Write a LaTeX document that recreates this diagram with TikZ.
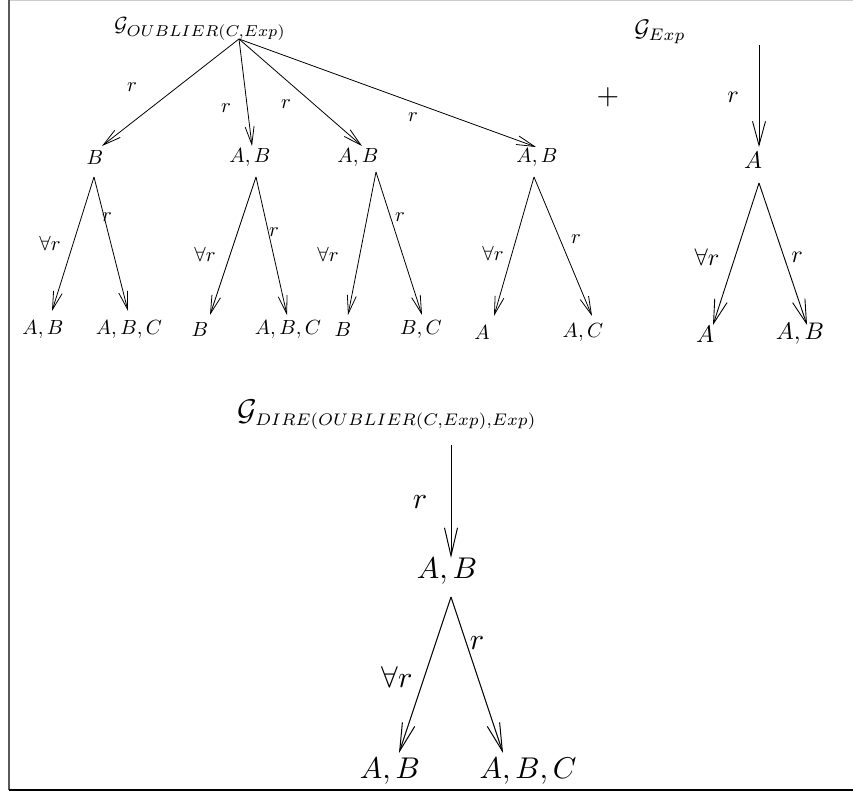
\documentclass[tikz,border=0pt]{standalone}
\usetikzlibrary{arrows.meta}
\begin{document}
\begin{tikzpicture}[x=1pt,y=-1pt,
  fa/.style={inner sep=0pt,scale=2.05,transform shape},
  fb/.style={inner sep=0pt,scale=2.4,transform shape},
  fc/.style={inner sep=0pt,scale=3.0,transform shape},
  ara/.style={-{Straight Barb[length=18pt,width=9pt]},line width=0.8pt},
  arb/.style={-{Straight Barb[length=24pt,width=13pt]},line width=0.9pt},
  arc/.style={-{Straight Barb[length=28pt,width=13pt]},line width=1pt}]
\useasboundingbox (0,0) rectangle (853,794);
% frame
\draw[line width=1pt,black!20] (9,0.5) -- (853,0.5);
\draw[line width=1.6pt,black!65] (9,0) -- (9,790);
\draw[line width=1.6pt] (9,790) -- (853,790);

% ---------- tree 1 ----------
\node[fa] (g1) at (200,29) {$\mathcal{G}_{\scalebox{1.1}{$\scriptstyle OUBLIER(C,Exp)$}}$};
\coordinate (s1) at (239,39);
\node[fa] (n1) at (95,157) {$B$};
\node[fa] (n2) at (250,157) {$A,B$};
\node[fa] (n3) at (358,157) {$A,B$};
\node[fa] (n4) at (537,157) {$A,B$};
\coordinate (t1) at (102,146);
\coordinate (t2) at (252,146);
\coordinate (t3) at (362,146);
\coordinate (t4) at (536,147);
\draw[ara] (s1) -- (t1);
\draw[ara] (s1) -- (t2);
\draw[ara] (s1) -- (t3);
\draw[ara] (s1) -- (t4);
\node[fa] (r1) at (132,87) {$r$};
\node[fa] (r2) at (226,108) {$r$};
\node[fa] (r3) at (286,104) {$r$};
\node[fa] (r4) at (413,117) {$r$};

% subtree of n1
\coordinate (p1) at (94,177);
\coordinate (p1a) at (52,311);
\coordinate (p1b) at (128,311);
\draw[ara] (p1) -- (p1a);
\draw[ara] (p1) -- (p1b);
\node[fa] (q1a) at (50,243) {$\forall r$};
\node[fa] (q1b) at (107,217) {$r$};
\node[fa] (m1a) at (43,329) {$A,B$};
\node[fa] (m1b) at (129,329) {$A,B,C$};

% subtree of n2
\coordinate (p2) at (256,177);
\coordinate (p2a) at (210,315);
\coordinate (p2b) at (287,315);
\draw[ara] (p2) -- (p2a);
\draw[ara] (p2) -- (p2b);
\node[fa] (q2a) at (205,254) {$\forall r$};
\node[fa] (q2b) at (274,232) {$r$};
\node[fa] (m2a) at (200,329) {$B$};
\node[fa] (m2b) at (288,329) {$A,B,C$};

% subtree of n3
\coordinate (p3) at (376,172);
\coordinate (p3a) at (348,315);
\coordinate (p3b) at (422,315);
\draw[ara] (p3) -- (p3a);
\draw[ara] (p3) -- (p3b);
\node[fa] (q3a) at (328,254) {$\forall r$};
\node[fa] (q3b) at (400,217) {$r$};
\node[fa] (m3a) at (343,329) {$B$};
\node[fa] (m3b) at (421,329) {$B,C$};

% subtree of n4
\coordinate (p4) at (534,177);
\coordinate (p4a) at (494,316);
\coordinate (p4b) at (592,316);
\draw[ara] (p4) -- (p4a);
\draw[ara] (p4) -- (p4b);
\node[fa] (q4a) at (493,253) {$\forall r$};
\node[fa] (q4b) at (576,239) {$r$};
\node[fa] (m4a) at (482,332) {$A$};
\node[fa] (m4b) at (583,332) {$A,C$};

% plus
\node[inner sep=0pt,scale=2.9,transform shape] (plus) at (608,97) {$+$};

% ---------- tree 2 ----------
\node[fb] (g2) at (660,32) {$\mathcal{G}_{Exp}$};
\coordinate (s2) at (759,45);
\coordinate (t5) at (759,147);
\draw[arb] (s2) -- (t5);
\node[fb] (r5) at (733,97) {$r$};
\node[fb] (n5) at (753,160) {$A$};
\coordinate (p5) at (759,183);
\coordinate (p5a) at (713,325);
\coordinate (p5b) at (807,325);
\draw[arb] (p5) -- (p5a);
\draw[arb] (p5) -- (p5b);
\node[fb] (q5a) at (707,257) {$\forall r$};
\node[fb] (q5b) at (797,257) {$r$};
\node[fb] (m5a) at (705,334) {$A$};
\node[fb] (m5b) at (800,334) {$A,B$};

% ---------- tree 3 ----------
\node[fc] (g3) at (387,415) {$\mathcal{G}_{\scalebox{0.8}{$\scriptstyle DIRE(OUBLIER(C,Exp),Exp)$}}$};
\coordinate (s3) at (451,445);
\coordinate (t6) at (451,558);
\draw[arc] (s3) -- (t6);
\node[fc] (r6) at (420,502) {$r$};
\node[fc] (n6) at (447,571) {$A,B$};
\coordinate (p6) at (451,597);
\coordinate (p6a) at (399,753);
\coordinate (p6b) at (503,753);
\draw[arc] (p6) -- (p6a);
\draw[arc] (p6) -- (p6b);
\node[fc] (q6a) at (397,677) {$\forall r$};
\node[fc] (q6b) at (477,643) {$r$};
\node[fc] (m6a) at (390,771) {$A,B$};
\node[fc] (m6b) at (528,771) {$A,B,C$};
\end{tikzpicture}
\end{document}
